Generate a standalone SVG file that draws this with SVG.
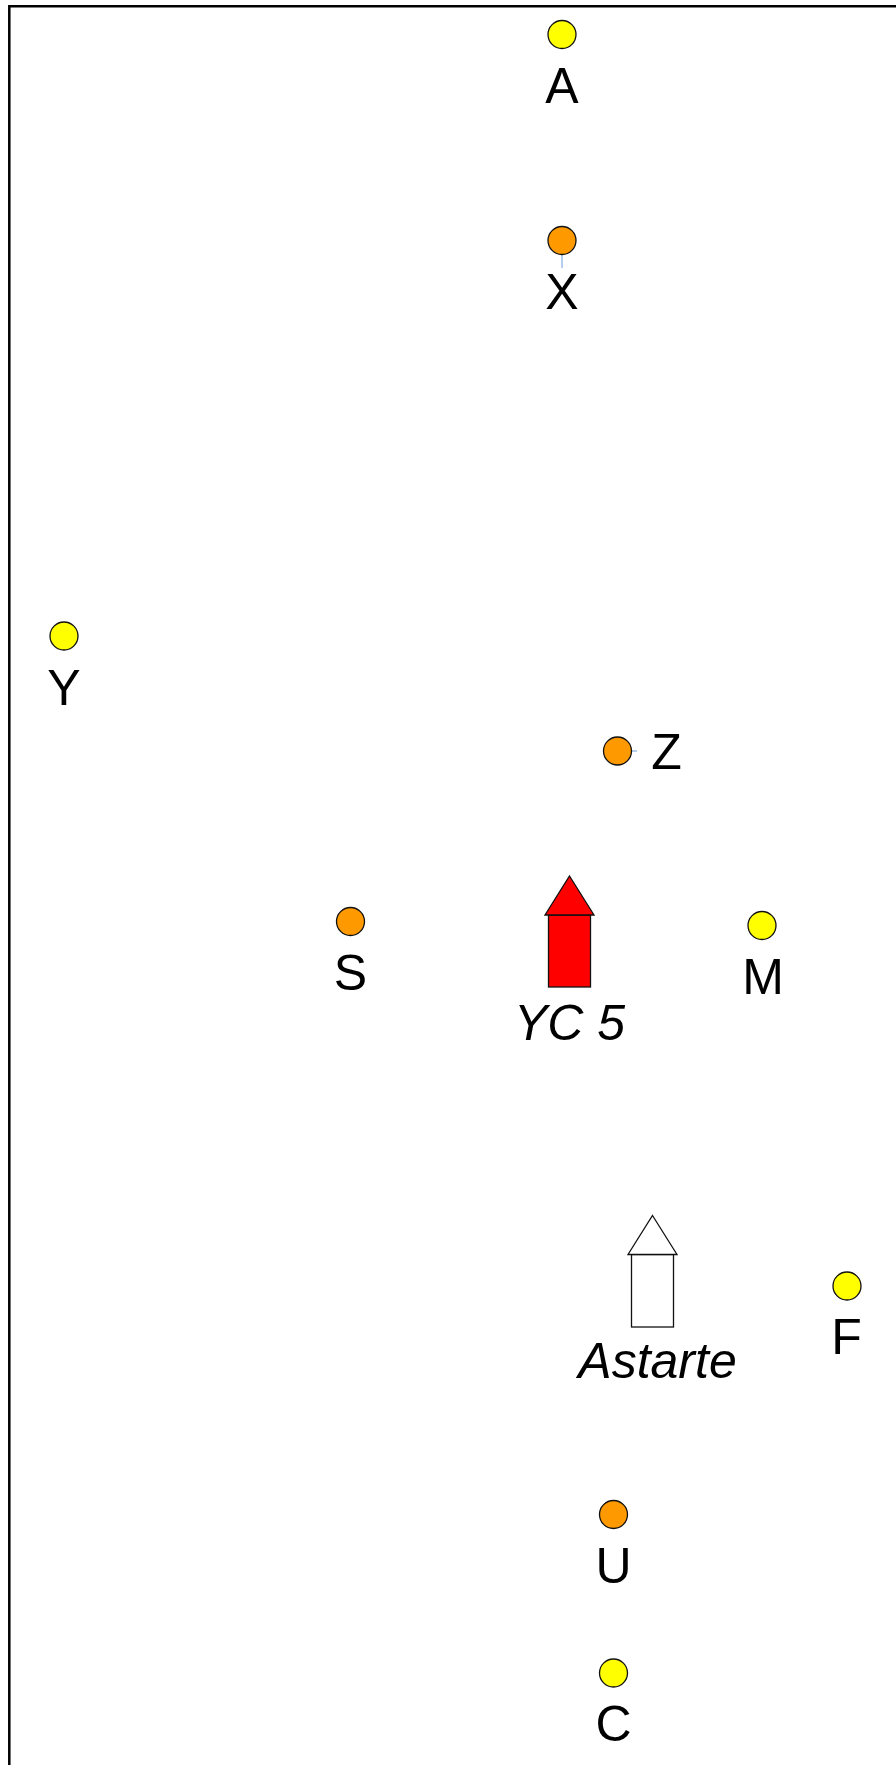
<svg xmlns="http://www.w3.org/2000/svg" width="896" height="1765" viewBox="0 0 896 1765">
<style>
.y{fill:#ffff00;stroke:#111;stroke-width:1.3}
.o{fill:#ff9900;stroke:#111;stroke-width:1.3}
text{font-family:"Liberation Sans",Arial,sans-serif;font-size:50px;fill:#000;text-anchor:middle}
.i{font-style:italic}
.s{stroke:#111;stroke-width:1.3}
</style>
<rect width="896" height="1765" fill="#fff"/>
<path d="M9.3 1765V6.300H896" fill="none" stroke="#000" stroke-width="2.500"/>
<g id="connectors" stroke="#6f9fdc" stroke-width="1" fill="none">
<path d="M562 254V268"/>
<path d="M631 751H637"/>
</g>
<g id="A"><circle class="y" cx="562" cy="34.500" r="14"/><text x="562" y="102.500">A</text></g>
<g id="X"><circle class="o" cx="562" cy="240.500" r="14"/><text x="562" y="309">X</text></g>
<g id="Y"><circle class="y" cx="64" cy="636" r="14"/><text x="64" y="705">Y</text></g>
<g id="Z"><circle class="o" cx="617.500" cy="751" r="14"/><text x="666.500" y="769">Z</text></g>
<g id="S"><circle class="o" cx="350.500" cy="921.500" r="14"/><text x="350.500" y="990">S</text></g>
<g id="M"><circle class="y" cx="762" cy="925.500" r="14"/><text x="763" y="994">M</text></g>
<g id="F"><circle class="y" cx="847" cy="1286" r="14"/><text x="846.500" y="1354">F</text></g>
<g id="U"><circle class="o" cx="613.500" cy="1514.500" r="14"/><text x="613.500" y="1583">U</text></g>
<g id="C"><circle class="y" cx="613.500" cy="1673" r="14"/><text x="613.500" y="1741">C</text></g>
<g id="YC5"><rect class="s" x="548.500" y="915" width="42" height="72" fill="#ff0000"/><path class="s" d="M569.500 876L594 915H545Z" fill="#ff0000"/><text class="i" x="569.500" y="1040">YC 5</text></g>
<g id="Astarte"><rect class="s" x="631.500" y="1254.500" width="42" height="72.500" fill="#fff"/><path class="s" d="M652.500 1215.500L677 1254.500H628Z" fill="#fff"/><text class="i" x="657.500" y="1378">Astarte</text></g>
</svg>
